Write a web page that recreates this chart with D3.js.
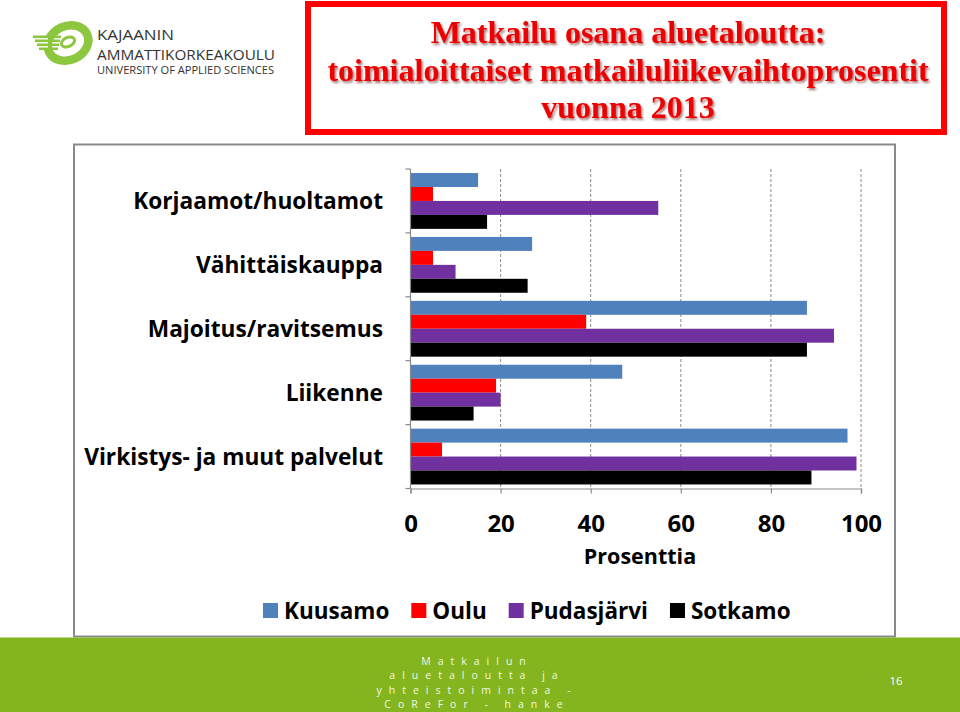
<!DOCTYPE html>
<html>
<head>
<meta charset="utf-8">
<script src="https://cdn.jsdelivr.net/npm/d3@7"></script>
<style>
  html, body { margin: 0; padding: 0; background: #ffffff; }
  svg { display: block; }
</style>
</head>
<body>
<svg id="chart" width="960" height="712"></svg>
<script>
// ---- data ----
const categories = ["Korjaamot/huoltamot", "Vähittäiskauppa", "Majoitus/ravitsemus", "Liikenne", "Virkistys- ja muut palvelut"];
const seriesNames = ["Kuusamo", "Oulu", "Pudasjärvi", "Sotkamo"];
const kuusamo    = [15, 27, 88, 47, 97];
const oulu       = [5, 5, 39, 19, 7];
const pudasjarvi = [55, 10, 94, 20, 99];
const sotkamo    = [17, 26, 88, 14, 89];
const xTicks = [0, 20, 40, 60, 80, 100];
const xTitle = "Prosenttia";
const titleLines = ["Matkailu osana aluetaloutta:", "toimialoittaiset matkailuliikevaihtoprosentit", "vuonna 2013"];
const footerLines = ["Matkailun", "aluetaloutta ja", "yhteistoimintaa -", "CoReFor - hanke"];
const pageNumber = "16";
const logoLines = ["KAJAANIN", "AMMATTIKORKEAKOULU", "UNIVERSITY OF APPLIED SCIENCES"];

const seriesValues = [kuusamo, oulu, pudasjarvi, sotkamo];
const colors = ["#4f81bd", "#ff0000", "#7030a0", "#000000"];

const svg = d3.select("#chart");
const labelFont = "'Open Sans', 'DejaVu Sans', sans-serif";

// ---- defs ----
const defs = svg.append("defs");
const f = defs.append("filter").attr("id", "shadow").attr("x", "-5%").attr("y", "-20%").attr("width", "110%").attr("height", "140%");
f.append("feDropShadow").attr("dx", 1.5).attr("dy", 2).attr("stdDeviation", 1.2)
  .attr("flood-color", "#5a0000").attr("flood-opacity", 0.55);

// ---- logo ----
const logo = svg.append("g");
const green = "#8dc63f";
logo.append("ellipse").attr("cx", 68).attr("cy", 43).attr("rx", 21).attr("ry", 17)
  .attr("transform", "rotate(-25 68 43)")
  .attr("fill", "none").attr("stroke", green).attr("stroke-width", 8.5);
logo.append("ellipse").attr("cx", 68).attr("cy", 42).attr("rx", 7).attr("ry", 4.5)
  .attr("transform", "rotate(-25 68 42)")
  .attr("fill", "none").attr("stroke", green).attr("stroke-width", 3);
logo.append("rect").attr("x", 40).attr("y", 36).attr("width", 8).attr("height", 12).attr("fill", "#fff");
[37, 41, 45, 49].forEach((yy, i) => {
  logo.append("rect").attr("x", 33 + i * 2).attr("y", yy - 1.5).attr("width", 28 - i * 3).attr("height", 2.6).attr("fill", green);
});
logo.append("text").attr("x", 97).attr("y", 40).text(logoLines[0])
  .attr("font-family", labelFont).attr("font-size", 14).attr("fill", "#333")
  .attr("textLength", 77).attr("lengthAdjust", "spacingAndGlyphs");
logo.append("text").attr("x", 97).attr("y", 59.5).text(logoLines[1])
  .attr("font-family", labelFont).attr("font-size", 14).attr("fill", "#333")
  .attr("textLength", 178).attr("lengthAdjust", "spacingAndGlyphs");
logo.append("text").attr("x", 97).attr("y", 74).text(logoLines[2])
  .attr("font-family", labelFont).attr("font-size", 10).attr("fill", "#333")
  .attr("textLength", 177).attr("lengthAdjust", "spacingAndGlyphs");

// ---- title box ----
svg.append("rect").attr("x", 308).attr("y", 4).attr("width", 636).attr("height", 128)
  .attr("fill", "#fff").attr("stroke", "#ff0000").attr("stroke-width", 6);
const titleG = svg.append("g").attr("filter", "url(#shadow)");
titleLines.forEach((t, i) => {
  titleG.append("text").attr("x", 628).attr("y", 43 + i * 37.5).attr("text-anchor", "middle")
    .attr("font-family", "'Liberation Serif', 'Times New Roman', serif").attr("font-weight", "bold")
    .attr("font-size", 32).attr("fill", "#ee0000").text(t);
});

// ---- chart frame ----
svg.append("rect").attr("x", 74).attr("y", 144.5).attr("width", 821).attr("height", 492)
  .attr("fill", "#fff").attr("stroke", "#8a8a8a").attr("stroke-width", 2);

// ---- scales ----
const x = d3.scaleLinear().domain([0, 100]).range([410.5, 861]);
const y = d3.scaleBand().domain(categories).range([169, 488.5]).paddingInner(0).paddingOuter(0);
const ySub = d3.scaleBand().domain(seriesNames).range([0, y.bandwidth()]).paddingInner(0).paddingOuter(0.29);

// gridlines
svg.append("g").selectAll("line").data(xTicks.filter(d => d > 0)).join("line")
  .attr("x1", d => x(d)).attr("x2", d => x(d)).attr("y1", 169).attr("y2", 488.5)
  .attr("stroke", "#8c8c8c").attr("stroke-width", 1).attr("stroke-dasharray", "3,2");

// bars
const barsG = svg.append("g");
seriesNames.forEach((s, si) => {
  barsG.append("g").selectAll("rect").data(categories).join("rect")
    .attr("x", x(0))
    .attr("y", c => y(c) + ySub(s))
    .attr("width", (c, ci) => x(seriesValues[si][ci]) - x(0))
    .attr("height", ySub.bandwidth())
    .attr("fill", colors[si]);
});

// y axis line + ticks at category boundaries
const axisColor = "#8a8a8a";
svg.append("line").attr("x1", x(0)).attr("x2", x(0)).attr("y1", 169).attr("y2", 488.5)
  .attr("stroke", axisColor).attr("stroke-width", 1.2);
const boundaries = categories.map(c => y(c)).concat([y(categories[categories.length - 1]) + y.bandwidth()]);
svg.append("g").selectAll("line").data(boundaries).join("line")
  .attr("x1", x(0) - 5).attr("x2", x(0)).attr("y1", d => d).attr("y2", d => d)
  .attr("stroke", axisColor).attr("stroke-width", 1.2);

// x axis
const xAxis = d3.axisBottom(x).tickValues(xTicks).tickSize(5).tickPadding(21).tickFormat(d3.format("d"));
const xg = svg.append("g").attr("transform", "translate(0,488.5)").call(xAxis);
xg.select(".domain").attr("stroke", axisColor).attr("stroke-width", 1.2);
xg.selectAll(".tick line").attr("stroke", axisColor).attr("stroke-width", 1.2);
xg.selectAll(".tick text").attr("font-family", labelFont).attr("font-weight", "bold")
  .attr("font-size", 24).attr("fill", "#000");

// category labels
svg.append("g").selectAll("text").data(categories).join("text")
  .attr("x", 383).attr("y", c => y(c) + y.bandwidth() / 2 + 8.5)
  .attr("text-anchor", "end").attr("font-family", labelFont).attr("font-weight", "bold")
  .attr("font-size", 22.7).attr("fill", "#000").text(c => c);

// x title
svg.append("text").attr("x", 640).attr("y", 564).attr("text-anchor", "middle")
  .attr("font-family", labelFont).attr("font-weight", "bold").attr("font-size", 21.5)
  .attr("fill", "#000").text(xTitle);

// legend
const legend = svg.append("g");
let lx = 263;
seriesNames.forEach((s, i) => {
  legend.append("rect").attr("x", lx).attr("y", 603).attr("width", 15).attr("height", 15).attr("fill", colors[i]);
  const t = legend.append("text").attr("x", lx + 21).attr("y", 618.5)
    .attr("font-family", labelFont).attr("font-weight", "bold").attr("font-size", 22.5)
    .attr("fill", "#000").text(s);
  lx += 21 + t.node().getComputedTextLength() + 22;
});

// ---- footer ----
svg.append("rect").attr("x", 0).attr("y", 637.5).attr("width", 960).attr("height", 75).attr("fill", "#84b41e");
const footG = svg.append("g");
footerLines.forEach((t, i) => {
  footG.append("text").attr("x", 477).attr("y", 664.5 + i * 14.5).attr("text-anchor", "middle")
    .attr("font-family", labelFont).attr("font-size", 10.5).attr("letter-spacing", 7)
    .attr("fill", "#f2f8e4").text(t);
});
svg.append("text").attr("x", 896).attr("y", 685).attr("text-anchor", "middle")
  .attr("font-family", labelFont).attr("font-size", 11.5).attr("fill", "#ffffff").text(pageNumber);
</script>
</body>
</html>
